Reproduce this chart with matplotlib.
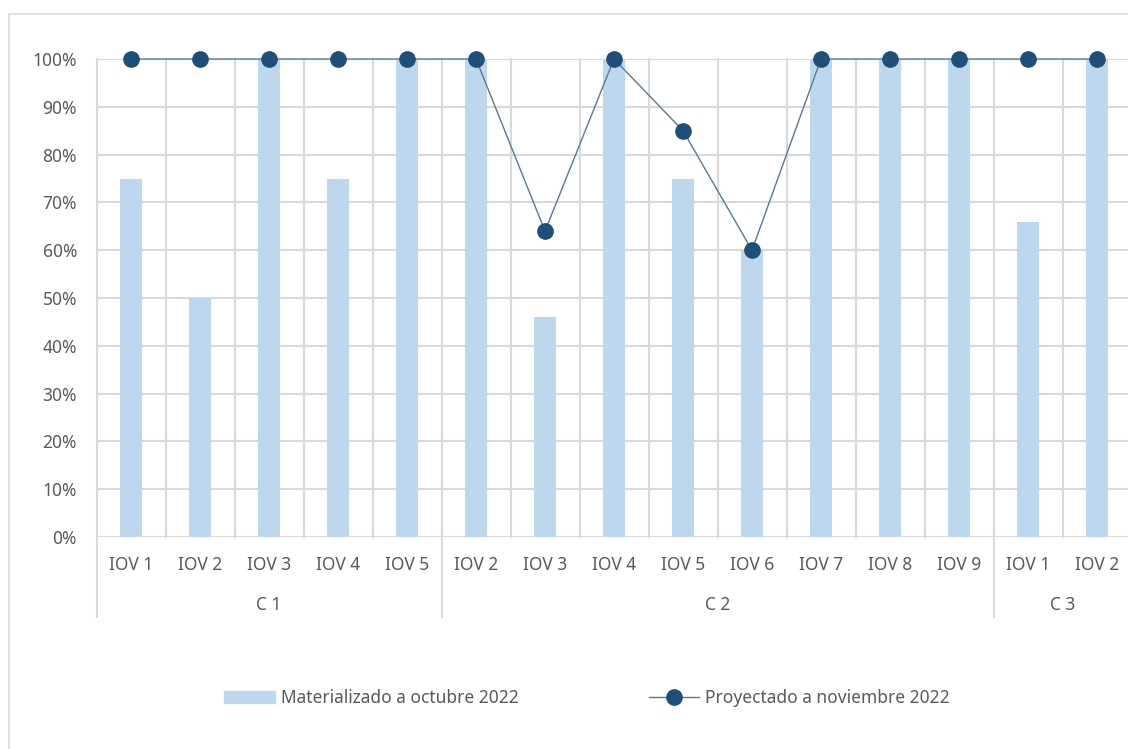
"""
Materializado vs proyectado por IOV (C 1, C 2, C 3)
"""
import matplotlib
matplotlib.use("Agg")
import matplotlib.pyplot as plt
from matplotlib.patches import Rectangle
from matplotlib.lines import Line2D
from matplotlib.ticker import PercentFormatter

plt.rcParams['font.family'] = ['Noto Sans', 'DejaVu Sans']

# data
groups = ["C 1", "C 2", "C 3"]
group_items = [
    ["IOV 1", "IOV 2", "IOV 3", "IOV 4", "IOV 5"],
    ["IOV 2", "IOV 3", "IOV 4", "IOV 5", "IOV 6", "IOV 7", "IOV 8", "IOV 9"],
    ["IOV 1", "IOV 2"],
]
materializado = [75, 50, 100, 75, 100,
                 100, 46, 100, 75, 60, 100, 100, 100,
                 66, 100]
proyectado = [100, 100, 100, 100, 100,
              100, 64, 100, 85, 60, 100, 100, 100,
              100, 100]

labels = [x for g in group_items for x in g]
n = len(labels)
x = list(range(n))

grid_col = "#d9d9d9"
txt_col = "#595959"
bar_col = "#bdd7ee"
line_col = "#5a7796"
mark_col = "#1f4e79"
fs = 12.5

W, H = 1128, 749
fig = plt.figure(figsize=(W / 100, H / 100), dpi=100)

# outer chart border
fig.patches.append(Rectangle((9 / W, -0.1), 1.2, 1 - 14 / H + 0.1, transform=fig.transFigure,
                             fill=False, edgecolor="#d9d9d9", linewidth=1.2))

left_px, right_px, top_px, bot_px = 96.5, 96.5 + 69 * n, 59, 537
ax = fig.add_axes([left_px / W, 1 - bot_px / H, (right_px - left_px) / W, (bot_px - top_px) / H])
ax.set_xlim(-0.5, n - 0.5)
ax.set_ylim(0, 100)

ax.bar(x, materializado, width=0.32, color=bar_col, zorder=2)
ax.plot(x, proyectado, color=line_col, linewidth=1, marker="o", markersize=11,
        markerfacecolor=mark_col, markeredgecolor=mark_col, zorder=3, clip_on=False)

# gridlines
ax.set_yticks(range(0, 101, 10))
ax.yaxis.set_major_formatter(PercentFormatter(decimals=0))
ax.grid(axis="y", color=grid_col, linewidth=1.5, zorder=0)
for b in range(n + 1):
    ax.axvline(b - 0.5, color=grid_col, linewidth=1.5, zorder=0, clip_on=False)
for s in ax.spines.values():
    s.set_visible(False)
ax.tick_params(axis="y", length=0, labelsize=fs, labelcolor=txt_col, pad=14)
ax.set_xticks([])

# category labels and group labels
trans = ax.get_xaxis_transform()
for i, lab in enumerate(labels):
    ax.text(i, -28 / (bot_px - top_px), lab, transform=trans, ha="center", va="center",
            fontsize=fs, color=txt_col)
start = 0
seps = [0]
for g, items in zip(groups, group_items):
    mid = start + (len(items) - 1) / 2
    ax.text(mid, -68 / (bot_px - top_px), g, transform=trans, ha="center", va="center",
            fontsize=fs, color=txt_col)
    start += len(items)
    seps.append(start)
for s in seps[:-1]:
    ax.plot([s - 0.5, s - 0.5], [0, -80 / (bot_px - top_px)], transform=trans,
            color=grid_col, linewidth=1.5, clip_on=False)

# legend
handles = [Rectangle((0, 0), 1, 1, color=bar_col),
           Line2D([0], [0], color=line_col, linewidth=1, marker="o", markersize=11,
                  markerfacecolor=mark_col, markeredgecolor=mark_col)]
fig.legend(handles, ["Materializado a octubre 2022", "Proyectado a noviembre 2022"],
           loc="center", bbox_to_anchor=(587 / W, 1 - 698 / H), ncol=2, frameon=False,
           fontsize=fs, labelcolor=txt_col, columnspacing=7.5, handlelength=2.9,
           handletextpad=0.35)

fig.savefig("out.png", dpi=100)
